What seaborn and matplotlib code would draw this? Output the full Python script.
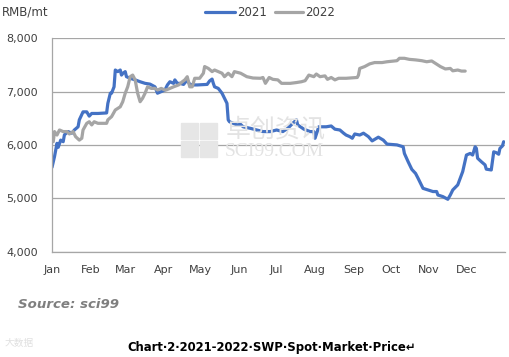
import matplotlib
matplotlib.use("Agg")
import matplotlib.pyplot as plt
import seaborn as sns
import pandas as pd
from matplotlib.patches import Rectangle

# ---- data (day of year, RMB/mt) ----
days_2021 = [0, 2, 4, 5, 7, 9, 10, 13, 16, 18, 21, 22, 25, 28, 30, 32, 37, 44, 45, 47,
             48, 50, 51, 53, 55, 56, 57, 59, 60, 63, 67, 71, 75, 79, 83, 85, 88, 91, 93,
             95, 98, 99, 101, 103, 106, 109, 111, 114, 117, 125, 127, 129, 130, 131, 134,
             137, 139, 141, 142, 143, 146, 149, 152, 154, 160, 165, 170, 176, 181, 186,
             190, 194, 197, 198, 203, 208, 211, 212, 215, 221, 225, 228, 232, 235, 237,
             240, 242, 244, 248, 251, 255, 258, 263, 267, 270, 278, 283, 284, 287, 290,
             293, 295, 297, 299, 303, 307, 310, 311, 315, 319, 321, 323, 327, 329, 331,
             334, 337, 339, 341, 342, 343, 346, 349, 350, 354, 356, 358, 360, 361, 363, 364]
price_2021 = [5580, 5780, 6030, 5955, 6090, 6060, 6190, 6250, 6220, 6280, 6340, 6470,
              6620, 6620, 6540, 6590, 6590, 6600, 6780, 6970, 6970, 7090, 7405, 7375,
              7405, 7310, 7340, 7375, 7280, 7250, 7220, 7185, 7155, 7140, 7090, 6970,
              7000, 7030, 7125, 7185, 7155, 7220, 7155, 7155, 7135, 7220, 7135, 7125,
              7125, 7135, 7200, 7235, 7155, 7090, 7060, 6970, 6875, 6780, 6470, 6435,
              6405, 6375, 6385, 6340, 6310, 6280, 6250, 6250, 6280, 6250, 6310, 6405,
              6470, 6375, 6295, 6250, 6250, 6125, 6340, 6340, 6355, 6295, 6280, 6220,
              6185, 6155, 6125, 6205, 6185, 6220, 6155, 6075, 6145, 6090, 6015, 6000,
              5965, 5840, 5685, 5540, 5465, 5375, 5280, 5185, 5155, 5125, 5125, 5060,
              5030, 4980, 5060, 5155, 5250, 5375, 5500, 5810, 5840, 5810, 5965, 5935,
              5750, 5685, 5625, 5545, 5530, 5870, 5855, 5825, 5935, 5980, 6060]

days_2022 = [1, 2, 4, 6, 9, 12, 14, 17, 19, 22, 24, 25, 28, 30, 32, 34, 37, 44, 45, 48,
             51, 53, 55, 57, 59, 61, 63, 65, 67, 69, 71, 73, 75, 77, 80, 83, 85, 88, 91,
             92, 98, 102, 105, 107, 109, 111, 113, 115, 119, 122, 123, 126, 129, 131,
             134, 137, 139, 142, 145, 147, 152, 157, 162, 168, 170, 172, 175, 178, 182,
             185, 192, 197, 201, 204, 207, 211, 213, 216, 220, 222, 225, 228, 231, 237,
             246, 247, 248, 252, 256, 260, 266, 270, 278, 280, 284, 288, 293, 298, 302,
             306, 309, 313, 317, 321, 323, 327, 330, 333]
price_2022 = [6060, 6250, 6185, 6280, 6250, 6250, 6205, 6250, 6155, 6090, 6125, 6280,
              6405, 6435, 6375, 6435, 6405, 6405, 6470, 6530, 6655, 6685, 6715, 6810,
              6970, 7090, 7280, 7310, 7220, 6970, 6810, 6875, 6970, 7090, 7060, 7060,
              7030, 7060, 7030, 7030, 7090, 7125, 7185, 7220, 7280, 7090, 7090, 7250,
              7250, 7345, 7470, 7435, 7375, 7405, 7375, 7345, 7280, 7345, 7280, 7375,
              7345, 7280, 7255, 7250, 7265, 7155, 7265, 7230, 7220, 7155, 7155, 7170,
              7185, 7205, 7310, 7280, 7330, 7280, 7295, 7230, 7265, 7220, 7250, 7250,
              7265, 7310, 7435, 7470, 7520, 7545, 7545, 7560, 7580, 7625, 7625, 7605,
              7595, 7580, 7560, 7575, 7530, 7470, 7425, 7435, 7390, 7405, 7385, 7385]

month_starts = [0, 31, 59, 90, 120, 151, 181, 212, 243, 273, 304, 334]
month_labels = ["Jan", "Feb", "Mar", "Apr", "May", "Jun", "Jul", "Aug", "Sep", "Oct", "Nov", "Dec"]
y_ticks = [4000, 5000, 6000, 7000, 8000]

df = pd.concat([
    pd.DataFrame({"day": days_2021, "price": price_2021, "year": "2021"}),
    pd.DataFrame({"day": days_2022, "price": price_2022, "year": "2022"}),
])

sns.set_theme(style="white")
plt.rcParams["font.family"] = ["DejaVu Sans", "Noto Sans CJK SC"]

fig = plt.figure(figsize=(5.10, 3.57), dpi=100)
ax = fig.add_axes([0.102, 0.2955, 0.888, 0.5972])

axis_grey = "#A6A6A6"
text_col = "#404040"

# watermark
fig.text(226 / 510, 1 - 142 / 357, "卓创资讯", family=["Noto Sans CJK SC"], fontsize=18,
         color="#E3E3E3", ha="left", va="bottom", zorder=0)
fig.text(225 / 510, 1 - 143 / 357, "SCI99.COM", family=["Liberation Serif"], fontsize=14,
         color="#E3E3E3", ha="left", va="top", zorder=0)
for (x0, y0, w, h) in [(181, 123, 17, 16), (200, 123, 17, 16), (181, 141, 17, 16), (200, 141, 17, 16)]:
    fig.patches.append(Rectangle((x0 / 510, 1 - (y0 + h) / 357), w / 510, h / 357,
                                 transform=fig.transFigure, color="#E6E6E6", zorder=0))
ax.patch.set_alpha(0)

palette = {"2021": "#4472C4", "2022": "#A5A5A5"}
sns.lineplot(data=df, x="day", y="price", hue="year", palette=palette, ax=ax,
             linewidth=2.3, legend=False, estimator=None, sort=True)

ax.set_xlim(0, 365)
ax.set_ylim(4000, 8000)
ax.set_yticks(y_ticks)
ax.set_yticklabels([f"{v:,}" for v in y_ticks], fontsize=8, color=text_col)
ax.set_xticks(month_starts)
ax.set_xticklabels(month_labels, fontsize=8, color=text_col)
ax.tick_params(axis="x", direction="out", length=4, width=0.8, color=axis_grey, pad=6)
ax.tick_params(axis="y", length=0, pad=10)

ax.yaxis.grid(True, color=axis_grey, linewidth=0.9)
ax.set_axisbelow(True)
for s in ["top", "right"]:
    ax.spines[s].set_visible(False)
for s in ["left", "bottom"]:
    ax.spines[s].set_color(axis_grey)
    ax.spines[s].set_linewidth(0.9)
ax.set_xlabel("")
ax.set_ylabel("")

# legend (manual, figure coords)
for (x0, x1, tx, lbl, col) in [(205, 235, 237, "2021", "#4472C4"), (275, 303, 305, "2022", "#A5A5A5")]:
    fig.add_artist(plt.Line2D([x0 / 510, x1 / 510], [1 - 12 / 357] * 2, color=col,
                              linewidth=2.3, transform=fig.transFigure))
    fig.text(tx / 510, 1 - 12 / 357, lbl, fontsize=8.5, color=text_col, ha="left", va="center")

fig.text(2 / 510, 1 - 12 / 357, "RMB/mt", fontsize=8.5, color=text_col, ha="left", va="center")
fig.text(18 / 510, 1 - 305 / 357, "Source: sci99", fontsize=9.6, color="#7F7F7F",
         fontweight="bold", fontstyle="italic", ha="left", va="center")
fig.text(127 / 510, 1 - 347 / 357, "Chart·2·2021-2022·SWP·Spot·Market·Price↵", fontsize=8.4,
         color="#000000", fontweight="bold", ha="left", va="center")
fig.text(5 / 510, 1 - 343 / 357, "大数据", family=["Noto Sans CJK SC"], fontsize=7,
         color="#E0E0E0", ha="left", va="center")

fig.savefig("out.png", dpi=100)
